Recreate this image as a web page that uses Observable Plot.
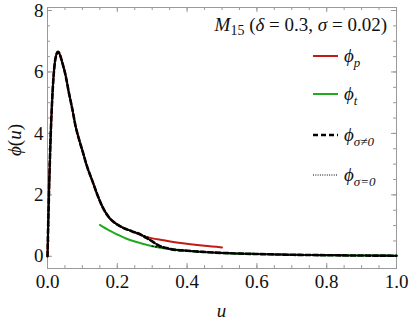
<!DOCTYPE html>
<html>
<head>
<meta charset="utf-8">
<script src="https://cdn.jsdelivr.net/npm/d3@7"></script>
<script src="https://cdn.jsdelivr.net/npm/@observablehq/plot@0.6"></script>
<style>
  html, body { margin: 0; padding: 0; background: #fff; }
  #chart { position: relative; width: 409px; height: 327px; }
  #chart svg { position: absolute; left: 0; top: 0; }
</style>
</head>
<body>
<div id="chart"></div>
<script>
// ---- data ----
const xTicks = [0, 0.2, 0.4, 0.6, 0.8, 1.0];
const yTicks = [0, 2, 4, 6, 8];

// phi_p (red), 0 <= u <= 0.5
const uP   = [0, 0.003, 0.006, 0.009, 0.013, 0.017, 0.021, 0.025, 0.03, 0.036, 0.042, 0.052, 0.061, 0.071, 0.08, 0.09, 0.1, 0.114, 0.128, 0.142, 0.157, 0.176, 0.205, 0.243, 0.281, 0.333, 0.37, 0.41, 0.45, 0.5];
const phiP = [0, 1.5, 2.8, 3.9, 5.0, 5.8, 6.3, 6.55, 6.66, 6.55, 6.32, 5.88, 5.34, 4.8, 4.26, 3.82, 3.44, 2.9, 2.47, 2.03, 1.62, 1.27, 1.0, 0.81, 0.64, 0.52, 0.45, 0.39, 0.34, 0.29];

// phi_t (green), 0.15 <= u <= 1
const uT   = [0.15, 0.175, 0.2, 0.225, 0.25, 0.275, 0.3, 0.35, 0.4, 0.45, 0.5, 0.6, 0.7, 0.8, 0.9, 1.0];
const phiT = [1.02, 0.85, 0.71, 0.58, 0.48, 0.40, 0.33, 0.24, 0.18, 0.14, 0.11, 0.075, 0.05, 0.035, 0.025, 0.02];

// phi_{sigma != 0} (black dashed), smooth passage from phi_p to phi_t
const uS   = [0, 0.003, 0.006, 0.009, 0.013, 0.017, 0.021, 0.025, 0.03, 0.036, 0.042, 0.052, 0.061, 0.071, 0.08, 0.09, 0.1, 0.114, 0.128, 0.142, 0.157, 0.176, 0.205, 0.243, 0.265, 0.28, 0.298, 0.321, 0.34, 0.35, 0.4, 0.45, 0.5, 0.6, 0.7, 0.8, 0.9, 1.0];
const phiS = [0, 1.5, 2.8, 3.9, 5.0, 5.8, 6.3, 6.55, 6.66, 6.55, 6.32, 5.88, 5.34, 4.8, 4.26, 3.82, 3.44, 2.9, 2.47, 2.03, 1.62, 1.27, 1.0, 0.81, 0.72, 0.62, 0.50, 0.34, 0.27, 0.24, 0.18, 0.14, 0.11, 0.075, 0.05, 0.035, 0.025, 0.02];

// phi_{sigma = 0} (black dotted): on phi_p, then jumps onto phi_t (break = NaN)
const u0   = [0, 0.003, 0.006, 0.009, 0.013, 0.017, 0.021, 0.025, 0.03, 0.036, 0.042, 0.052, 0.061, 0.071, 0.08, 0.09, 0.1, 0.114, 0.128, 0.142, 0.157, 0.176, 0.205, 0.243, 0.265, 0.29, 0.295, 0.3, 0.35, 0.4, 0.45, 0.5, 0.6, 0.7, 0.8, 0.9, 1.0];
const phi0 = [0, 1.5, 2.8, 3.9, 5.0, 5.8, 6.3, 6.55, 6.66, 6.55, 6.32, 5.88, 5.34, 4.8, 4.26, 3.82, 3.44, 2.9, 2.47, 2.03, 1.62, 1.27, 1.0, 0.81, 0.72, 0.61, NaN, 0.33, 0.24, 0.18, 0.14, 0.11, 0.075, 0.05, 0.035, 0.025, 0.02];

const seriesNames = ["p", "t", "σ≠0", "σ=0"];

// ---- build ----
const W = 409, H = 327;
const mL = 47, mR = 13, mT = 7, mB = 59;
const frameH = H - mT - mB;
const gray = "#9a9a9a";
const red = "#c41a14", green = "#20aa20";
const FONT = '"Liberation Serif", "DejaVu Serif", serif';

const toRows = (us, vs) => us.map((u, i) => ({u, v: vs[i]}));
const xMinor = d3.range(0, 1.0001, 0.05).map(d => +d.toFixed(2));
const yMinor = d3.range(0, 8.0001, 0.5);

const plot = Plot.plot({
  width: W, height: H,
  marginLeft: mL, marginRight: mR, marginTop: mT, marginBottom: mB,
  style: {fontFamily: FONT, fontSize: "19px", color: "#111", background: "white"},
  x: {domain: [0, 1]},
  y: {domain: [-0.397, 8.098]},
  marks: [
    Plot.tickX(xMinor, {x: d => d, insetTop: frameH - 3, stroke: gray}),
    Plot.tickX(xMinor, {x: d => d, insetBottom: frameH - 3, stroke: gray}),
    Plot.tickX(xTicks, {x: d => d, insetTop: frameH - 5, stroke: gray}),
    Plot.tickX(xTicks, {x: d => d, insetBottom: frameH - 5, stroke: gray}),
    Plot.tickY(yMinor, {y: d => d, insetRight: (W - mL - mR) - 3, stroke: gray}),
    Plot.tickY(yMinor, {y: d => d, insetLeft: (W - mL - mR) - 3, stroke: gray}),
    Plot.tickY(yTicks, {y: d => d, insetRight: (W - mL - mR) - 5, stroke: gray}),
    Plot.tickY(yTicks, {y: d => d, insetLeft: (W - mL - mR) - 5, stroke: gray}),
    Plot.frame({stroke: gray, strokeWidth: 1}),
    Plot.axisX({ticks: xTicks, tickSize: 0, tickPadding: 6, tickFormat: d => d.toFixed(1), label: null, fontSize: 19}),
    Plot.axisY({ticks: yTicks, tickSize: 0, tickPadding: 4, tickFormat: d => String(d), label: null, fontSize: 19}),
    Plot.line(toRows(uP, phiP), {x: "u", y: "v", stroke: red, strokeWidth: 2, curve: "monotone-x"}),
    Plot.line(toRows(uT, phiT), {x: "u", y: "v", stroke: green, strokeWidth: 2, curve: "monotone-x"}),
    Plot.line(toRows(uS, phiS), {x: "u", y: "v", stroke: "black", strokeWidth: 2.6, strokeDasharray: "5,2.5", curve: "monotone-x"}),
    Plot.line(toRows(u0, phi0), {x: "u", y: "v", stroke: "black", strokeWidth: 1.4, strokeDasharray: "1,2.5", curve: "monotone-x"})
  ]
});

document.getElementById("chart").appendChild(plot);

// ---- overlay: title, legend, axis labels (real text) ----
const ov = d3.select("#chart").append("svg")
  .attr("width", W).attr("height", H)
  .attr("font-family", FONT).attr("font-size", 19).style("pointer-events", "none");

const title = ov.append("text").attr("x", W - mR - 9).attr("y", 31).attr("text-anchor", "end").attr("fill", "#111");
title.append("tspan").attr("font-style", "italic").text("M");
title.append("tspan").attr("font-size", 14).attr("dy", 4).text("15");
title.append("tspan").attr("dy", -4).text(" (");
title.append("tspan").attr("font-style", "italic").text("δ");
title.append("tspan").text(" = 0.3,  ");
title.append("tspan").attr("font-style", "italic").text("σ");
title.append("tspan").text(" = 0.02)");

const legendStyles = [
  {stroke: red, width: 2, dash: null},
  {stroke: green, width: 2, dash: null},
  {stroke: "black", width: 2.6, dash: "5,3"},
  {stroke: "black", width: 1.2, dash: "1,1.3"}
];
const legendY = [56, 94, 135, 175];
const swX1 = 313, swX2 = 338, labX = 344;
seriesNames.forEach((name, i) => {
  const s = legendStyles[i], yy = legendY[i];
  const l = ov.append("line").attr("x1", swX1).attr("x2", swX2).attr("y1", yy).attr("y2", yy)
    .attr("stroke", s.stroke).attr("stroke-width", s.width);
  if (s.dash) l.attr("stroke-dasharray", s.dash);
  const t = ov.append("text").attr("x", labX).attr("y", yy + 6).attr("fill", "#111");
  t.append("tspan").attr("font-style", "italic").text("ϕ");
  t.append("tspan").attr("font-size", 13).attr("dy", 5).attr("font-style", "italic").text(name);
});

const yl = ov.append("text").attr("transform", "translate(21,140) rotate(-90)").attr("text-anchor", "middle").attr("fill", "#111");
yl.append("tspan").attr("font-style", "italic").text("ϕ");
yl.append("tspan").text("(");
yl.append("tspan").attr("font-style", "italic").text("u");
yl.append("tspan").text(")");

ov.append("text").attr("x", (mL + W - mR) / 2).attr("y", 317).attr("text-anchor", "middle")
  .attr("font-style", "italic").attr("fill", "#111").text("u");
</script>
</body>
</html>
